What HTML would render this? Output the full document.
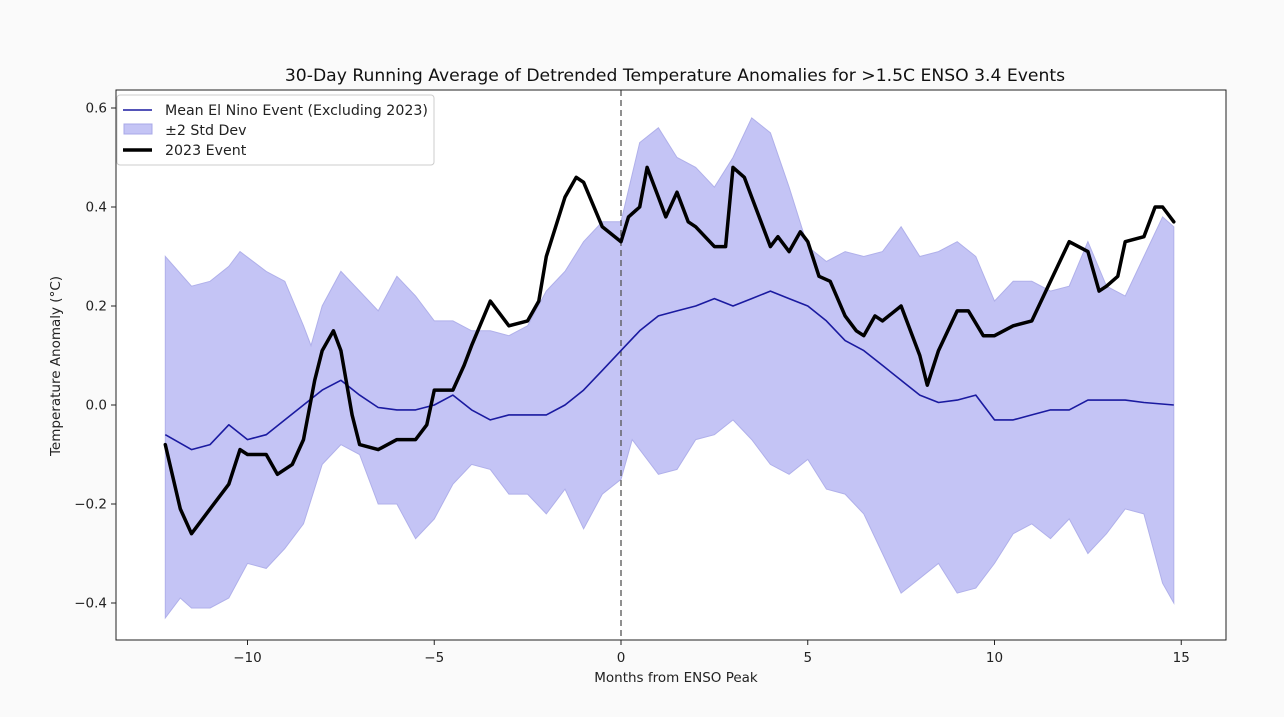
<!DOCTYPE html>
<html><head><meta charset="utf-8"><style>
html,body{margin:0;padding:0;background:#fafafa;}
svg{display:block;font-family:"DejaVu Sans","Liberation Sans",sans-serif;}
</style></head><body>
<svg id="chart" width="1284" height="717">
<rect x="0" y="0" width="1284" height="717" fill="#fafafa"/>
<rect x="116" y="90" width="1110" height="550" fill="#ffffff"/>
<g id="plot"></g>
<rect x="116" y="90" width="1110" height="550" fill="none" stroke="#222" stroke-width="1"/>
<text x="675" y="81" text-anchor="middle" font-size="17.2" fill="#111">30-Day Running Average of Detrended Temperature Anomalies for &gt;1.5C ENSO 3.4 Events</text>
<text x="676" y="682" text-anchor="middle" font-size="13.5" fill="#222">Months from ENSO Peak</text>
<text x="0" y="0" transform="translate(60,366) rotate(-90)" text-anchor="middle" font-size="13.5" fill="#222">Temperature Anomaly (°C)</text>
<g id="axes"></g>
<g>
<rect x="117" y="95" width="317" height="70" fill="#fff" stroke="#ccc" rx="3"/>
<line x1="123" y1="110" x2="152" y2="110" stroke="#1a1aa0" stroke-width="1.5"/>
<text x="165" y="115" font-size="14.2" fill="#222">Mean El Nino Event (Excluding 2023)</text>
<rect x="124" y="124" width="28" height="10" fill="#c4c4f5" stroke="#a8a8e8"/>
<text x="165" y="135" font-size="14.2" fill="#222">±2 Std Dev</text>
<line x1="123" y1="150" x2="152" y2="150" stroke="#000" stroke-width="3.5"/>
<text x="165" y="155" font-size="14.2" fill="#222">2023 Event</text>
</g>
</svg>
<script>
const meanX=[-12.2,-11.5,-11,-10.5,-10,-9.5,-9,-8.5,-8,-7.5,-7,-6.5,-6,-5.5,-5,-4.5,-4,-3.5,-3,-2.5,-2,-1.5,-1,-0.5,0,0.5,1,1.5,2,2.5,3,3.5,4,4.5,5,5.5,6,6.5,7,7.5,8,8.5,9,9.5,10,10.5,11,11.5,12,12.5,13,13.5,14,14.8];
const meanY=[-0.06,-0.09,-0.08,-0.04,-0.07,-0.06,-0.03,0.0,0.03,0.05,0.02,-0.005,-0.01,-0.01,0.0,0.02,-0.01,-0.03,-0.02,-0.02,-0.02,0.0,0.03,0.07,0.11,0.15,0.18,0.19,0.2,0.215,0.2,0.215,0.23,0.215,0.2,0.17,0.13,0.11,0.08,0.05,0.02,0.005,0.01,0.02,-0.03,-0.03,-0.02,-0.01,-0.01,0.01,0.01,0.01,0.005,0.0];
const upX=[-12.2,-11.5,-11,-10.5,-10.2,-9.5,-9,-8.5,-8.3,-8,-7.5,-7,-6.5,-6,-5.5,-5,-4.5,-4,-3.5,-3,-2.5,-2,-1.5,-1,-0.5,0,0.5,1,1.5,2,2.5,3,3.5,4,4.5,5,5.5,6,6.5,7,7.5,8,8.5,9,9.5,10,10.5,11,11.5,12,12.5,13,13.5,14,14.5,14.8];
const upY=[0.30,0.24,0.25,0.28,0.31,0.27,0.25,0.16,0.12,0.20,0.27,0.23,0.19,0.26,0.22,0.17,0.17,0.15,0.15,0.14,0.16,0.23,0.27,0.33,0.37,0.37,0.53,0.56,0.50,0.48,0.44,0.50,0.58,0.55,0.44,0.32,0.29,0.31,0.30,0.31,0.36,0.30,0.31,0.33,0.30,0.21,0.25,0.25,0.23,0.24,0.33,0.24,0.22,0.30,0.38,0.36];
const loX=[-12.2,-11.8,-11.5,-11,-10.5,-10,-9.5,-9,-8.5,-8,-7.5,-7,-6.5,-6,-5.5,-5,-4.5,-4,-3.5,-3,-2.5,-2,-1.5,-1,-0.5,0,0.3,0.5,1,1.5,2,2.5,3,3.5,4,4.5,5,5.5,6,6.5,7,7.5,8,8.5,9,9.5,10,10.5,11,11.5,12,12.5,13,13.5,14,14.5,14.8];
const loY=[-0.43,-0.39,-0.41,-0.41,-0.39,-0.32,-0.33,-0.29,-0.24,-0.12,-0.08,-0.10,-0.20,-0.20,-0.27,-0.23,-0.16,-0.12,-0.13,-0.18,-0.18,-0.22,-0.17,-0.25,-0.18,-0.15,-0.07,-0.09,-0.14,-0.13,-0.07,-0.06,-0.03,-0.07,-0.12,-0.14,-0.11,-0.17,-0.18,-0.22,-0.30,-0.38,-0.35,-0.32,-0.38,-0.37,-0.32,-0.26,-0.24,-0.27,-0.23,-0.30,-0.26,-0.21,-0.22,-0.36,-0.40];
const evX=[-12.2,-11.8,-11.5,-11,-10.5,-10.2,-10,-9.5,-9.2,-8.8,-8.5,-8.2,-8,-7.7,-7.5,-7.2,-7,-6.5,-6,-5.5,-5.2,-5,-4.5,-4.2,-4,-3.5,-3,-2.5,-2.2,-2,-1.5,-1.2,-1,-0.5,0,0.2,0.5,0.7,1,1.2,1.5,1.8,2,2.5,2.8,3,3.3,3.5,4,4.2,4.5,4.8,5,5.3,5.6,6,6.3,6.5,6.8,7,7.5,8,8.2,8.5,9,9.3,9.7,10,10.5,11,11.5,12,12.5,12.8,13,13.3,13.5,14,14.3,14.5,14.8];
const evY=[-0.08,-0.21,-0.26,-0.21,-0.16,-0.09,-0.10,-0.10,-0.14,-0.12,-0.07,0.05,0.11,0.15,0.11,-0.02,-0.08,-0.09,-0.07,-0.07,-0.04,0.03,0.03,0.08,0.12,0.21,0.16,0.17,0.21,0.30,0.42,0.46,0.45,0.36,0.33,0.38,0.40,0.48,0.42,0.38,0.43,0.37,0.36,0.32,0.32,0.48,0.46,0.42,0.32,0.34,0.31,0.35,0.33,0.26,0.25,0.18,0.15,0.14,0.18,0.17,0.20,0.10,0.04,0.11,0.19,0.19,0.14,0.14,0.16,0.17,0.25,0.33,0.31,0.23,0.24,0.26,0.33,0.34,0.40,0.40,0.37];
const xTicks=[-10,-5,0,5,10,15];
const yTicks=[-0.4,-0.2,0.0,0.2,0.4,0.6];
const yTickLabels=["−0.4","−0.2","0.0","0.2","0.4","0.6"];

const NS="http://www.w3.org/2000/svg";
function sx(m){return 621+m*37.35;}
function sy(v){return 405-v*495;}
function mk(tag,attrs,parent){const e=document.createElementNS(NS,tag);for(const k in attrs)e.setAttribute(k,attrs[k]);parent.appendChild(e);return e;}
function pts(xs,ys){return xs.map((x,i)=>sx(x).toFixed(1)+","+sy(ys[i]).toFixed(1));}
const plot=document.getElementById('plot');
const axes=document.getElementById('axes');

const band=mk('polygon',{points:pts(upX,upY).concat(pts(loX,loY).reverse()).join(' '),fill:'#c4c4f5',stroke:'#b0b0ea','stroke-width':1},plot);



const vl=mk('line',{x1:sx(0),y1:90,x2:sx(0),y2:640,stroke:'#555','stroke-width':1.3,'stroke-dasharray':'6,4'},plot);



const ml=mk('polyline',{points:pts(meanX,meanY).join(' '),fill:'none',stroke:'#1a1aa0','stroke-width':1.6,'stroke-linejoin':'round'},plot);



const el=mk('polyline',{points:pts(evX,evY).join(' '),fill:'none',stroke:'#000','stroke-width':3.5,'stroke-linejoin':'round','stroke-linecap':'round'},plot);



xTicks.forEach(t=>{
  const l=mk('line',{x1:sx(t),y1:640,x2:sx(t),y2:645,stroke:'#222'},axes);
  
  
  const tx=mk('text',{x:sx(t),y:662,'text-anchor':'middle','font-size':13.5,fill:'#222'},axes);
  tx.textContent=t<0?"−"+Math.abs(t):String(t);
  
  
});
yTicks.forEach((t,i)=>{
  const l=mk('line',{x1:111,y1:sy(t),x2:116,y2:sy(t),stroke:'#222'},axes);
  
  
  const tx=mk('text',{x:107,y:sy(t)+4.5,'text-anchor':'end','font-size':13.5,fill:'#222'},axes);
  tx.textContent=yTickLabels[i];
  
  
});
</script>
</body></html>
